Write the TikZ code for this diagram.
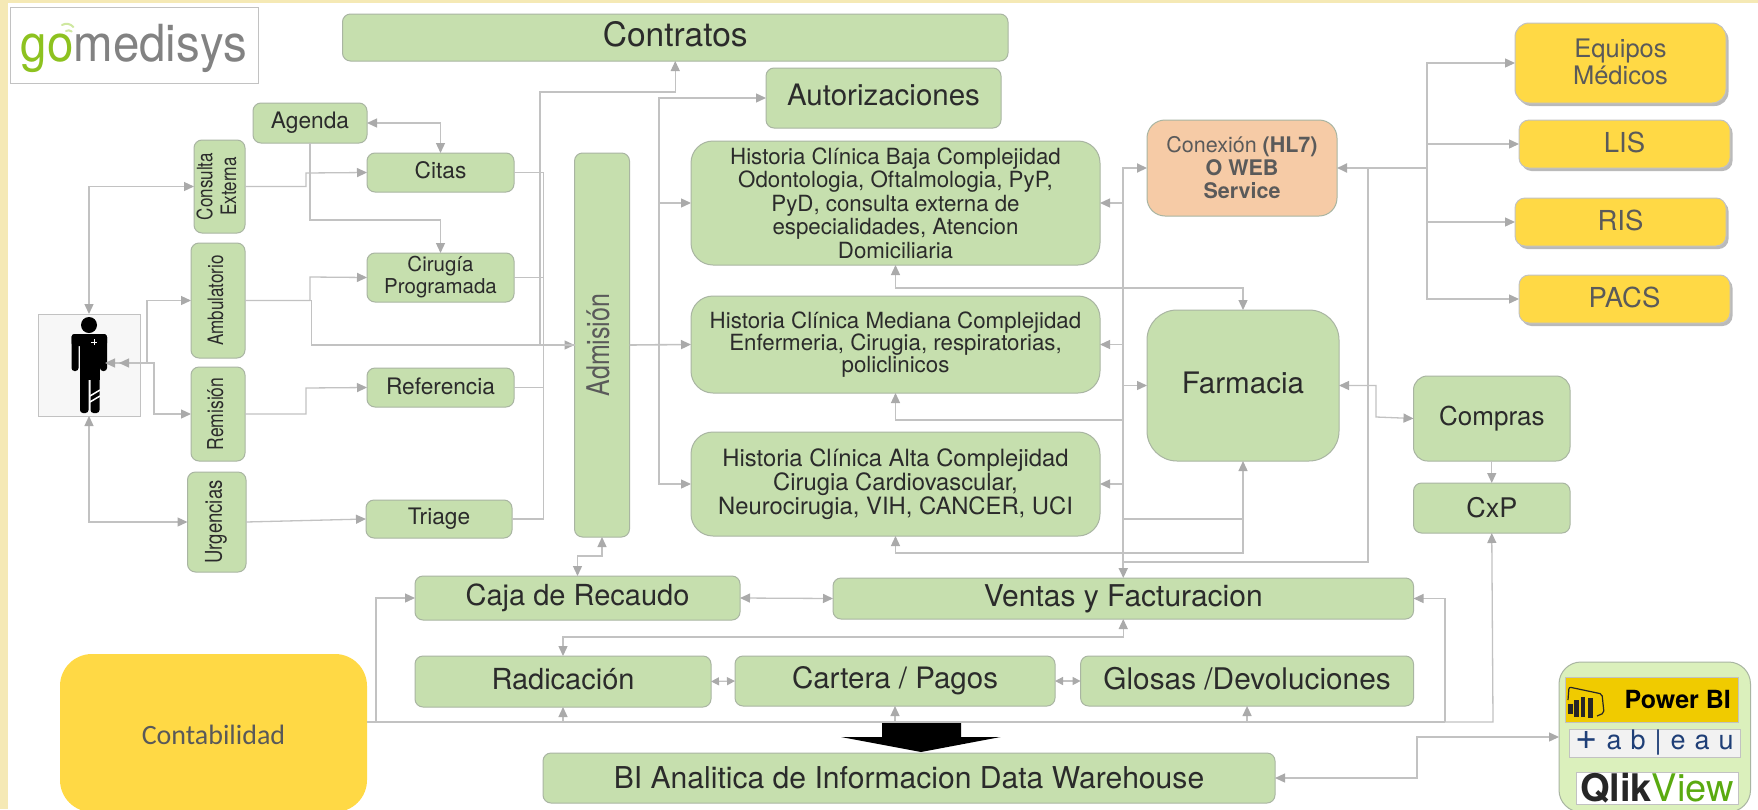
\documentclass[tikz,border=0pt]{standalone}
\usepackage{fontspec}
\setmainfont{TeX Gyre Heros}
\newfontfamily\calib{Carlito}
\usetikzlibrary{arrows.meta,shadows}
\definecolor{bgy}{HTML}{F5E9B5}
\definecolor{grn}{HTML}{C6DFAE}
\definecolor{grnb}{HTML}{A9B5A2}
\definecolor{ylw}{HTML}{FFD945}
\definecolor{pch}{HTML}{F6CBA6}
\definecolor{lng}{HTML}{C2C2C2}
\definecolor{tipc}{HTML}{AAAAAA}
\definecolor{txt}{HTML}{2B2B2B}
\definecolor{soft}{HTML}{5A5A5A}
\definecolor{panel}{HTML}{DBF0BC}
\definecolor{pbiy}{HTML}{F0CB00}
\definecolor{tabb}{HTML}{1F3F77}
\definecolor{logog}{HTML}{8DC21F}
\definecolor{logoa}{HTML}{CFE8A0}
\definecolor{logom}{HTML}{828282}
\definecolor{qv}{HTML}{5AAA10}
\newcommand{\bxnode}[7][]{%
  \pgfmathsetmacro\bxCx{(#3+#5)/2}%
  \pgfmathsetmacro\bxCy{(#4+#6)/2}%
  \pgfmathsetmacro\bxW{#5-#3}%
  \pgfmathsetmacro\bxH{#6-#4}%
  \node[#1,minimum width=\bxW pt,minimum height=\bxH pt] (#2) at (\bxCx,\bxCy) {#7};}
\newcommand{\vtx}[1]{\rotatebox{90}{\scalebox{1}[1.25]{\begin{tabular}{@{}c@{}}#1\end{tabular}}}}
\newcommand{\nud}[2]{\raisebox{#1pt}[\height][\depth]{#2}}
\tikzset{
  base/.style={shape=rectangle,inner sep=0pt,outer sep=0pt,align=center,line width=1pt,text=txt},
  gbox/.style={base,fill=grn,draw=grnb,rounded corners=8pt},
  gbig/.style={base,fill=grn,draw=grnb,rounded corners=22pt},
  ybox/.style={base,fill=ylw,draw=lng,text=soft,rounded corners=10pt,
     drop shadow={shadow xshift=2.5pt,shadow yshift=-3pt,opacity=.45,fill=black!60}},
  cn/.style={draw=lng,line width=1.3pt,
     >={Triangle[length=10pt,width=9pt,color=tipc]}},
  cnb/.style={cn,line width=2pt},
  sm/.style={cn,>={Triangle[length=8pt,width=8pt,color=tipc]}},
  f/.style 2 args={font=\fontsize{#1}{#2}\selectfont},
}
\begin{document}
\begin{tikzpicture}[x=1pt,y=-1pt]
\useasboundingbox (0,0) rectangle (1758,809);
\fill[bgy] (0,0) rectangle (1758,809);
\fill[white] (8,3) rectangle (1758,809);

% logo
\bxnode[base,draw=lng,fill=white,f={46.5}{50}]{logo}{10}{7}{258}{83}{\nud{-3}{\scalebox{1.02}[1.1]{\textcolor{logog}{go}\textcolor{logom}{medisys}}}}
\draw[line width=2pt,color=logoa,line cap=round] (62,25) arc[start angle=120,end angle=40,radius=9pt];
\draw[line width=2pt,color=logoa,line cap=round] (66,31) arc[start angle=120,end angle=50,radius=5pt];

% main boxes
\bxnode[gbox,f={33.5}{35}]{contr}{342.5}{14}{1008}{61}{\nud{3}{Contratos}}
\bxnode[gbox,f={29.5}{32}]{aut}{766}{68}{1001}{128}{\nud{3}{Autorizaciones}}
\bxnode[gbox,f={22.7}{25}]{age}{253}{103}{367}{143}{Agenda}
\bxnode[gbox,f={22.7}{25}]{cit}{367}{153}{514}{192}{\nud{2}{Citas}}
\bxnode[gbox,f={20.5}{22}]{cir}{367}{253}{514}{302}{Cirugía\\Programada}
\bxnode[gbox,f={22.7}{25}]{ref}{367}{368}{514}{407}{\nud{1}{Referencia}}
\bxnode[gbox,f={22.7}{25}]{tri}{366}{500}{512}{538}{Triage}
\bxnode[gbox,f={17}{19}]{ce}{194}{140}{245}{233}{\vtx{Consulta\\Externa}}
\bxnode[gbox,f={17}{20}]{amb}{191}{243}{245}{358}{\vtx{Ambulatorio}}
\bxnode[gbox,f={17.5}{20}]{rem}{191}{367}{245}{461}{\vtx{Remisión}}
\bxnode[gbox,f={18.5}{20}]{urg}{187.5}{472}{246}{572}{\vtx{Urgencias}}
\bxnode[gbox,text=soft,f={25}{28}]{adm}{574.5}{153}{629.5}{537}{\vtx{Admisión}}
\bxnode[gbig,f={22.3}{23.5}]{hcb}{691}{141}{1100}{265}{Historia Clínica Baja Complejidad\\Odontologia, Oftalmologia, PyP,\\PyD, consulta externa de\\especialidades, Atencion\\Domiciliaria}
\bxnode[gbig,f={22.3}{22.4}]{hcm}{691}{296}{1100}{393}{Historia Clínica Mediana Complejidad\\Enfermeria, Cirugia, respiratorias,\\policlinicos}
\bxnode[gbig,f={23.8}{24}]{hca}{691}{432}{1100}{536}{Historia Clínica Alta Complejidad\\Cirugia Cardiovascular,\\Neurocirugia, VIH, CANCER, UCI}
\bxnode[base,fill=pch,draw=grnb,rounded corners=18pt,text=soft,f={21.5}{23}]{con}{1147}{120}{1337}{216}{Conexión {\bfseries (HL7)}\\{\bfseries O WEB}\\{\bfseries Service}}
\bxnode[gbox,rounded corners=30pt,f={29.6}{30}]{far}{1147}{310}{1339}{461}{\nud{3}{Farmacia}}
\bxnode[ybox,rounded corners=14pt,f={25.5}{27}]{equ}{1515}{23}{1726}{103}{\nud{1}{Equipos}\\\nud{1}{Médicos}}
\bxnode[ybox,f={27.5}{30}]{lis}{1519}{120}{1730}{168}{\nud{2}{LIS}}
\bxnode[ybox,f={27.5}{30}]{ris}{1515}{198}{1726}{246}{\nud{2}{RIS}}
\bxnode[ybox,f={27.5}{30}]{pacs}{1519}{275}{1730}{323}{\nud{2}{PACS}}
\bxnode[gbox,rounded corners=14pt,f={26}{28}]{com}{1413.5}{376}{1570}{461}{Compras}
\bxnode[gbox,f={27}{30}]{cxp}{1413.5}{483}{1570}{533}{CxP}
\bxnode[gbox,f={29}{30}]{caja}{415}{576}{740}{620}{Caja de Recaudo}
\bxnode[gbox,f={30}{30}]{ven}{833}{578}{1413.5}{619}{Ventas y Facturacion}
\bxnode[gbox,f={29}{30}]{rad}{415}{656}{711}{707}{\nud{2}{Radicación}}
\bxnode[gbox,f={29.5}{30}]{car}{735}{656}{1055}{706}{Cartera / Pagos}
\bxnode[gbox,f={29.8}{30}]{glo}{1080.6}{656}{1413.5}{706}{\nud{2}{Glosas /Devoluciones}}
\bxnode[gbox,f={30.1}{30}]{bi}{543}{753}{1275}{803}{BI Analitica de Informacion Data Warehouse}
\bxnode[base,fill=ylw,rounded corners=32pt,text=black!65,font=\calib\fontsize{28}{30}\selectfont]{conta}{60}{654}{367}{812}{\nud{-2}{Contabilidad}}

% tools panel
\bxnode[base,fill=panel,draw=grnb,rounded corners=22pt]{tools}{1559}{662}{1750.5}{812}{}
\bxnode[base,fill=pbiy,draw=lng,text=black,f={25}{28}]{pbi}{1565.5}{677}{1738}{722}{\hspace*{52pt}\bfseries Power BI}
\bxnode[base,fill=black!5,draw=lng,text=tabb,f={27}{28}]{tab}{1569}{729}{1740}{757}{\spaceskip=9pt {\fontsize{38}{28}\selectfont +} a b | e a u}
\bxnode[base,fill=white,draw=lng,f={38}{32}]{qlik}{1576}{772}{1738}{804}{\textbf{\color{black!85}Qlik}\textcolor{qv}{View}}
\fill[black!85] (1568,704) rectangle (1573,714);
\fill[black!85] (1574,700) rectangle (1579,717);
\fill[black!85] (1581,697) rectangle (1585,717);
\fill[black!85] (1588,698) rectangle (1593,718);
\draw[black!85,line width=1.2pt,rounded corners=2pt] (1568,700) -- (1569,687) -- (1602,694) -- (1604,713) -- (1597,716);

% person
\bxnode[base,fill=black!3,draw=lng]{person}{38}{314}{140}{416}{}
\fill (89,325) circle[radius=8pt];
\fill[rounded corners=3pt] (71.5,334) rectangle (78.5,371);
\fill[rounded corners=3pt] (100,334) rectangle (107,371);
\fill[rounded corners=3pt] (71.5,334) rectangle (107,346);
\fill (80,336) rectangle (99.5,380);
\fill[rounded corners=3pt] (80,375) rectangle (88.5,413);
\fill[rounded corners=3pt] (90.5,375) rectangle (99.5,413);
\draw[white,line width=1pt] (91,342) -- (97,342) (94,339) -- (94,345);
\draw[white,line width=1.5pt] (90,396) -- (100,390) (90,402) -- (100,396);

% big arrow
\fill[black] (882,722) -- (961,722) -- (961,737) -- (1000.5,737) -- (921,752) -- (841,737) -- (882,737) -- cycle;

% connectors
\coordinate (pA) at (105,363);
\coordinate (pB) at (119,363);
\draw[cn,<->] (person.north) |- (ce.west);
\draw[cn,<->] (pA) -- (147,363) |- (amb.west);
\draw[cn,<->] (pB) -- (154,363) |- (rem.west);
\draw[cn,<->] (person.south) |- (urg.west);
\draw[cn,->] (ce.east) -| (306,173) -- (cit.west);
\draw[cn,<->] (age.east) -| (cit.north);
\draw[cn,->] (age.south) -- (310,220) -| (cir.north);
\draw[cn,->] (amb.east) -| (310,277) -- (cir.west);
\draw[cn,->] (amb.east) -| (311.5,345) -- (adm.west);
\draw[cn,->] (rem.east) -| (306,388) -- (ref.west);
\draw[cn,->] (urg.east) -- (tri.west);
\coordinate (jn) at (543.5,345);
\draw[cn] (cit.east) -| (jn);
\draw[cn] (cir.east) -| (jn);
\draw[cn] (ref.east) -| (jn);
\draw[cn] (tri.east) -| (jn);
\draw[cnb] (540,345) -- (575,345);
\draw[cn,->] (540,345) -- (540,92) -| (contr.south);
\coordinate (tr) at (659,345);
\draw[cn,->,line width=1.6pt] (adm.east) -- (hcm.west);
\draw[cn,->] (tr) |- (aut.west);
\draw[cn,->] (tr) |- (hcb.west);
\draw[cn,->] (tr) |- (hca.west);
\draw[cnb,<->] (ven.north) |- (con.west);
\draw[cn,->] (ven.north |- hcb.east) -- (hcb.east);
\draw[cn,->] (ven.north |- hcm.east) -- (hcm.east);
\draw[cn,->] (ven.north |- hca.east) -- (hca.east);
\draw[cn,->] (ven.north |- far.west) -- (far.west);
\draw[cn,<->] (hcb.south) -- (895.5,288) -| (far.north);
\draw[cn,->] (ven.north |- 0,420) -| (hcm.south);
\draw[cn,<->] (hca.south) -- (895.5,553) -| (far.south);
\draw[cn] (ven.north |- 0,519) -- (far.south |- 0,519);
\coordinate (fan) at (1427,168);
\draw[cnb,->] (fan) -- (con.east);
\draw[cn,->] (fan) |- (equ.west);
\draw[cn,->] (fan) |- (lis.west);
\draw[cn,->] (fan) |- (ris.west);
\draw[cn,->] (fan) |- (pacs.west);
\draw[cn] (1368,168) -- (1368,562) -- (ven.north |- 0,562);
\draw[cn,<->] (far.east) -| (1376,417) -- (com.west);
\draw[cn,->] (com.south) -- (cxp.north);
\coordinate (bus) at (367,722);
\draw[cnb] (bus) -- (1445,722);
\draw[cn,->] (1445,722) -- (1493,722) -- (cxp.south);
\draw[cn,->] (376,722) |- (caja.west);
\draw[cn,->] (rad.south |- bus) -- (rad.south);
\draw[cn,->] (car.south |- bus) -- (car.south);
\draw[cn,->] (glo.south |- bus) -- (glo.south);
\draw[cn,->] (1445,722) |- (ven.east);
\draw[cn,<->] (caja.north) |- (602,556) -- (adm.south);
\draw[cn,<->] (caja.east) -- (ven.west);
\draw[cn,<->] (rad.north) -- (563,637) -| (ven.south);
\draw[sm,<->] (rad.east) -- (car.west);
\draw[sm,<->] (car.east) -- (glo.west);
\draw[cn,<->] (bi.east) -| (1417,737) -- (tools.west);
\end{tikzpicture}
\end{document}
